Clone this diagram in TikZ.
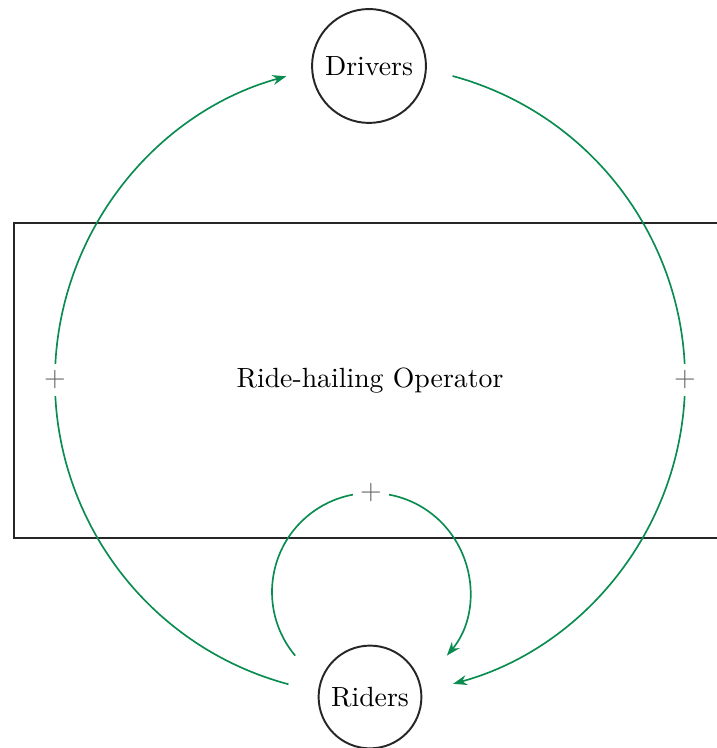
\documentclass[tikz,border=0pt]{standalone}
\usetikzlibrary{calc,arrows.meta}
\definecolor{loopgreen}{RGB}{10,140,80}
\begin{document}
\begin{tikzpicture}[x=0.36pt,y=0.36pt,
  agent/.style={draw=black!85,line width=0.7pt,circle,inner sep=0pt},
  opbox/.style={draw=black!85,line width=0.8pt,rectangle,minimum width=256.3pt,minimum height=113.4pt,inner sep=0pt},
  flow/.style={draw=loopgreen,line width=0.6pt,-{Stealth[length=5pt,width=3.6pt]}},
  plain/.style={draw=loopgreen,line width=0.6pt},
  polarity/.style={fill=white,text=black!60,inner sep=2.5pt}]
\useasboundingbox (0,0) rectangle (716,748);
\node[opbox] (op) at (370,367.5) {Ride-hailing Operator};
\node[agent,minimum size=41pt] (drivers) at (369,682) {Drivers};
\node[agent,minimum size=37pt] (riders) at (370,51) {Riders};
\coordinate (bigc) at (370,368);
\coordinate (smallc) at (371,156);
% left loop: riders -> drivers
\draw[flow] ($(bigc)+(255:315)$) arc[start angle=255,end angle=105.4,radius=315];
% right loop: drivers -> riders
\draw[flow] ($(bigc)+(74.8:315)$) arc[start angle=74.8,end angle=-74.7,radius=315];
% small loop: riders -> riders
\draw[flow] ($(smallc)+(220:99)$) arc[start angle=220,end angle=-40,radius=99];
\node[polarity] (pl) at ($(bigc)+(180:315)$) {+};
\node[polarity] (pr) at ($(bigc)+(0:315)$) {+};
\node[polarity] (ps) at ($(smallc)+(90:99)$) {+};
\end{tikzpicture}
\end{document}
